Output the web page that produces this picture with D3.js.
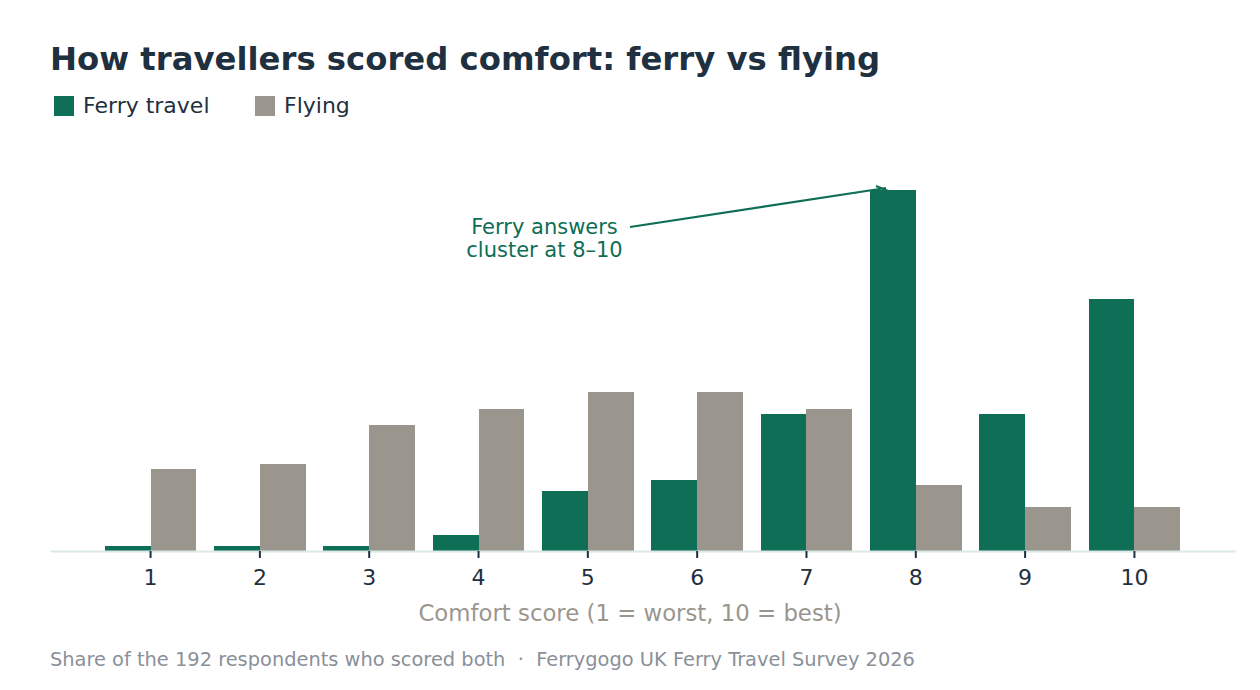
<!DOCTYPE html>
<meta charset="utf-8">
<script src="https://d3js.org/d3.v7.min.js"></script>
<style>
  body { margin: 0; background: #fff; }
  text { font-family: "DejaVu Sans", sans-serif; }
</style>
<div id="chart"></div>
<script>
// comfort scores and share of respondents (%), n = 192
var scores = ["1","2","3","4","5","6","7","8","9","10"];
var seriesNames = ["Ferry travel", "Flying"];
var ferryShare = [0.52, 0.52, 0.52, 1.56, 5.73, 6.77, 13.02, 34.38, 13.02, 23.96];
var flyingShare = [7.81, 8.33, 11.98, 13.54, 15.10, 15.10, 13.54, 6.25, 4.17, 4.17];
var colors = ["#0f6e56", "#9a968e"];

var width = 1260, height = 690;
var svg = d3.select("#chart").append("svg")
  .attr("width", width)
  .attr("height", height);

// title
svg.append("text")
  .attr("x", 50).attr("y", 70)
  .attr("font-size", 32.3).attr("font-weight", "bold")
  .attr("fill", "#1f3040")
  .text("How travellers scored comfort: ferry vs flying");

// legend
var legendX = [54, 255];
seriesNames.forEach(function(name, i) {
  svg.append("rect")
    .attr("x", legendX[i]).attr("y", 96)
    .attr("width", 20).attr("height", 20)
    .attr("fill", colors[i]);
  svg.append("text")
    .attr("x", legendX[i] + 29).attr("y", 113)
    .attr("font-size", 22).attr("fill", "#1f3040")
    .text(name);
});

var x = d3.scaleBand()
  .domain(scores)
  .range([50, 1235])
  .paddingInner(0.16)
  .paddingOuter(0.5);

var xSub = d3.scaleBand()
  .domain(seriesNames)
  .range([0, x.bandwidth()]);

var y = d3.scaleLinear()
  .domain([0, d3.max(ferryShare.concat(flyingShare))])
  .range([551, 190]);

// annotation (drawn under the bars)
var ann = svg.append("g");
ann.append("line")
  .attr("x1", 630).attr("y1", 227)
  .attr("x2", x("8") + xSub.bandwidth() * 0.35).attr("y2", y(34.38) - 2)
  .attr("stroke", colors[0]).attr("stroke-width", 2.2);
ann.append("path")
  .attr("d", "M876,186 L886,190 L877,194")
  .attr("fill", "none").attr("stroke", colors[0]).attr("stroke-width", 2);
ann.append("text")
  .attr("x", 544.5).attr("y", 234)
  .attr("text-anchor", "middle")
  .attr("font-size", 21).attr("fill", colors[0])
  .text("Ferry answers");
ann.append("text")
  .attr("x", 544.5).attr("y", 257)
  .attr("text-anchor", "middle")
  .attr("font-size", 21).attr("fill", colors[0])
  .text("cluster at 8–10");

// bars
var allSeries = [ferryShare, flyingShare];
allSeries.forEach(function(values, s) {
  svg.append("g").selectAll("rect")
    .data(values)
    .enter().append("rect")
    .attr("x", function(d, i) { return x(scores[i]) + xSub(seriesNames[s]); })
    .attr("y", function(d) { return y(d); })
    .attr("width", xSub.bandwidth())
    .attr("height", function(d) { return y(0) - y(d); })
    .attr("shape-rendering", "crispEdges")
    .attr("fill", colors[s]);
});

// x axis
var xAxis = svg.append("g")
  .attr("transform", "translate(0,551)")
  .call(d3.axisBottom(x).tickSize(7).tickPadding(11).tickSizeOuter(0));
xAxis.select(".domain").attr("stroke", "#dce8e5").attr("stroke-width", 2);
xAxis.selectAll(".tick line").attr("stroke", "#1f3040").attr("stroke-width", 2);
xAxis.selectAll(".tick text")
  .attr("font-size", 22).attr("fill", "#1f3040")
  .attr("font-family", "DejaVu Sans, sans-serif");

svg.append("text")
  .attr("x", 630).attr("y", 621)
  .attr("text-anchor", "middle")
  .attr("font-size", 22.8).attr("fill", "#9a968e")
  .text("Comfort score (1 = worst, 10 = best)");

// footer
svg.append("text")
  .attr("x", 50).attr("y", 666)
  .attr("font-size", 19.4).attr("fill", "#8a9099")
  .attr("xml:space", "preserve")
  .style("white-space", "pre")
  .text("Share of the 192 respondents who scored both  ·  Ferrygogo UK Ferry Travel Survey 2026");
</script>
